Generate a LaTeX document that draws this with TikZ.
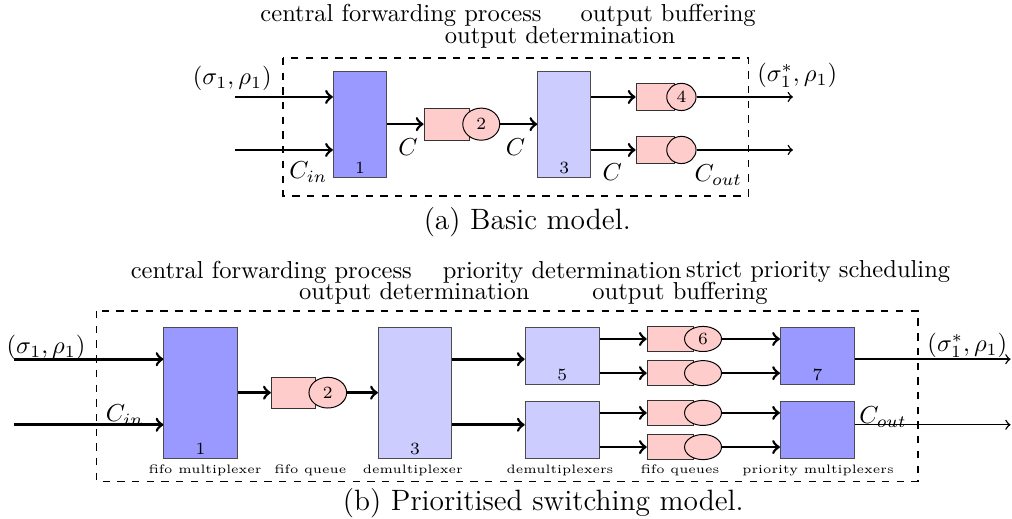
\documentclass[tikz,border=0pt]{standalone}
\usetikzlibrary{shapes.geometric}

\tikzset{
	darkbox/.style={draw=black!70,fill=blue!40,inner sep=0pt},
	lightbox/.style={draw=black!70,fill=blue!20,inner sep=0pt},
	buf/.style={draw=black!80,fill=red!20,inner sep=0pt},
	srv/.style={ellipse,draw=black,fill=red!20,inner sep=0pt,font=\scriptsize},
	boxnum/.style={font=\scriptsize,anchor=south,inner sep=1.5pt},
	flow/.style={->,line width=1.1pt},
	outflow/.style={->,semithick},
	part/.style={font=\tiny,inner sep=0pt}
}

\begin{document}
\begin{tikzpicture}
	\useasboundingbox (0,0) rectangle (14.51,-7.44);

	% (a) basic model
	\draw[dashed,semithick] (4.06,-0.83) rectangle (10.73,-2.81);
	\node at (5.75,-0.22) {central forwarding process};
	\node at (9.58,-0.22) {output buffering};
	\node at (8.03,-0.53) {output determination};

	\node[darkbox,minimum width=0.76cm,minimum height=1.52cm] (muxA) at (5.16,-1.78) {};
	\node[boxnum] at (muxA.south) {1};
	\node[lightbox,minimum width=0.76cm,minimum height=1.52cm] (demA) at (8.09,-1.78) {};
	\node[boxnum] at (demA.south) {3};

	\node[buf,minimum width=0.65cm,minimum height=0.46cm] (bufA2) at (6.405,-1.78) {};
	\node[srv,minimum width=0.53cm,minimum height=0.46cm] (srvA2) at (6.90,-1.78) {2};
	\node[buf,minimum width=0.55cm,minimum height=0.40cm] (bufA4) at (9.395,-1.39) {};
	\node[srv,minimum width=0.42cm,minimum height=0.39cm] (srvA4) at (9.77,-1.39) {4};
	\node[buf,minimum width=0.55cm,minimum height=0.40cm] (bufA5) at (9.395,-2.15) {};
	\node[srv,minimum width=0.42cm,minimum height=0.39cm] (srvA5) at (9.77,-2.15) {};

	\coordinate (inA1) at (3.37,-1.39);
	\coordinate (inA2) at (3.37,-2.15);
	\coordinate (outA1) at (11.37,-1.39);
	\coordinate (outA2) at (11.37,-2.15);

	\draw[flow] (inA1) -- (inA1 -| muxA.west);
	\draw[flow] (inA2) -- (inA2 -| muxA.west);
	\draw[flow] (muxA) -- (bufA2);
	\draw[flow] (srvA2) -- (demA);
	\draw[flow] (demA.east |- bufA4) -- (bufA4.west);
	\draw[flow] (demA.east |- bufA5) -- (bufA5.west);
	\draw[outflow] (srvA4) -- (outA1);
	\draw[outflow] (srvA5) -- (outA2);

	\node at (3.33,-1.13) {$(\sigma_1,\rho_1)$};
	\node at (11.43,-1.08) {$(\sigma_1^*,\rho_1)$};
	\node at (4.42,-2.47) {$C_{in}$};
	\node at (5.85,-2.11) {$C$};
	\node at (7.39,-2.11) {$C$};
	\node at (8.78,-2.47) {$C$};
	\node at (10.30,-2.51) {$C_{out}$};

	\node[font=\large] at (7.56,-3.19) {(a) Basic model.};

	% (b) prioritised switching model
	\draw[dashed,semithick] (1.38,-4.46) rectangle (13.16,-6.90);
	\node at (3.89,-3.90) {central forwarding process};
	\node at (8.06,-3.90) {priority determination};
	\node at (11.73,-3.90) {strict priority scheduling};
	\node at (5.94,-4.20) {output determination};
	\node at (9.75,-4.20) {output buffering};

	\node[darkbox,minimum width=1.05cm,minimum height=1.88cm] (muxB) at (2.875,-5.63) {};
	\node[boxnum] at (muxB.south) {1};
	\node[lightbox,minimum width=1.05cm,minimum height=1.88cm] (demB) at (5.95,-5.63) {};
	\node[boxnum] at (demB.south) {3};
	\node[lightbox,minimum width=1.06cm,minimum height=0.82cm] (prioB) at (8.06,-5.10) {};
	\node[boxnum] at (prioB.south) {5};
	\node[lightbox,minimum width=1.06cm,minimum height=0.82cm] (prioC) at (8.06,-6.17) {};
	\node[darkbox,minimum width=1.06cm,minimum height=0.82cm] (schedB) at (11.72,-5.10) {};
	\node[boxnum] at (schedB.south) {7};
	\node[darkbox,minimum width=1.06cm,minimum height=0.82cm] (schedC) at (11.72,-6.17) {};

	\node[buf,minimum width=0.64cm,minimum height=0.44cm] (bufB2) at (4.21,-5.63) {};
	\node[srv,minimum width=0.54cm,minimum height=0.44cm] (srvB2) at (4.70,-5.63) {2};
	\foreach \name/\y/\num in {6/-4.86/6,a/-5.35/,b/-5.92/,c/-6.41/} {
		\node[buf,minimum width=0.67cm,minimum height=0.36cm] (bufB\name) at (9.615,\y) {};
		\node[srv,minimum width=0.53cm,minimum height=0.36cm] (srvB\name) at (10.08,\y) {\num};
	}

	\coordinate (inB1) at (0.20,-5.15);
	\coordinate (inB2) at (0.20,-6.09);
	\coordinate (outB1) at (14.49,-5.15);
	\coordinate (outB2) at (14.49,-6.09);

	\draw[flow] (inB1) -- (inB1 -| muxB.west);
	\draw[flow] (inB2) -- (inB2 -| muxB.west);
	\draw[flow] (muxB) -- (bufB2);
	\draw[flow] (srvB2) -- (demB);
	\draw[flow] (demB.east |- inB1) -- (prioB.west |- inB1);
	\draw[flow] (demB.east |- inB2) -- (prioC.west |- inB2);
	\draw[flow] (prioB.east |- bufB6) -- (bufB6.west);
	\draw[flow] (prioB.east |- bufBa) -- (bufBa.west);
	\draw[flow] (prioC.east |- bufBb) -- (bufBb.west);
	\draw[flow] (prioC.east |- bufBc) -- (bufBc.west);
	\draw[flow] (srvB6) -- (schedB.west |- srvB6);
	\draw[flow] (srvBa) -- (schedB.west |- srvBa);
	\draw[flow] (srvBb) -- (schedC.west |- srvBb);
	\draw[flow] (srvBc) -- (schedC.west |- srvBc);
	\draw[outflow] (schedB.east |- outB1) -- (outB1);
	\draw[outflow] (schedC.east |- outB2) -- (outB2);

	\node at (0.66,-4.98) {$(\sigma_1,\rho_1)$};
	\node at (13.87,-4.95) {$(\sigma_1^*,\rho_1)$};
	\node at (1.79,-5.95) {$C_{in}$};
	\node at (12.66,-5.98) {$C_{out}$};

	\node[part] at (2.94,-6.74) {fifo multiplexer};
	\node[part] at (4.45,-6.74) {fifo queue};
	\node[part] at (5.92,-6.74) {demultiplexer};
	\node[part] at (8.03,-6.74) {demultiplexers};
	\node[part] at (9.75,-6.74) {fifo queues};
	\node[part] at (11.73,-6.74) {priority multiplexers};

	\node[font=\large] at (7.79,-7.21) {(b) Prioritised switching model.};
\end{tikzpicture}
\end{document}
